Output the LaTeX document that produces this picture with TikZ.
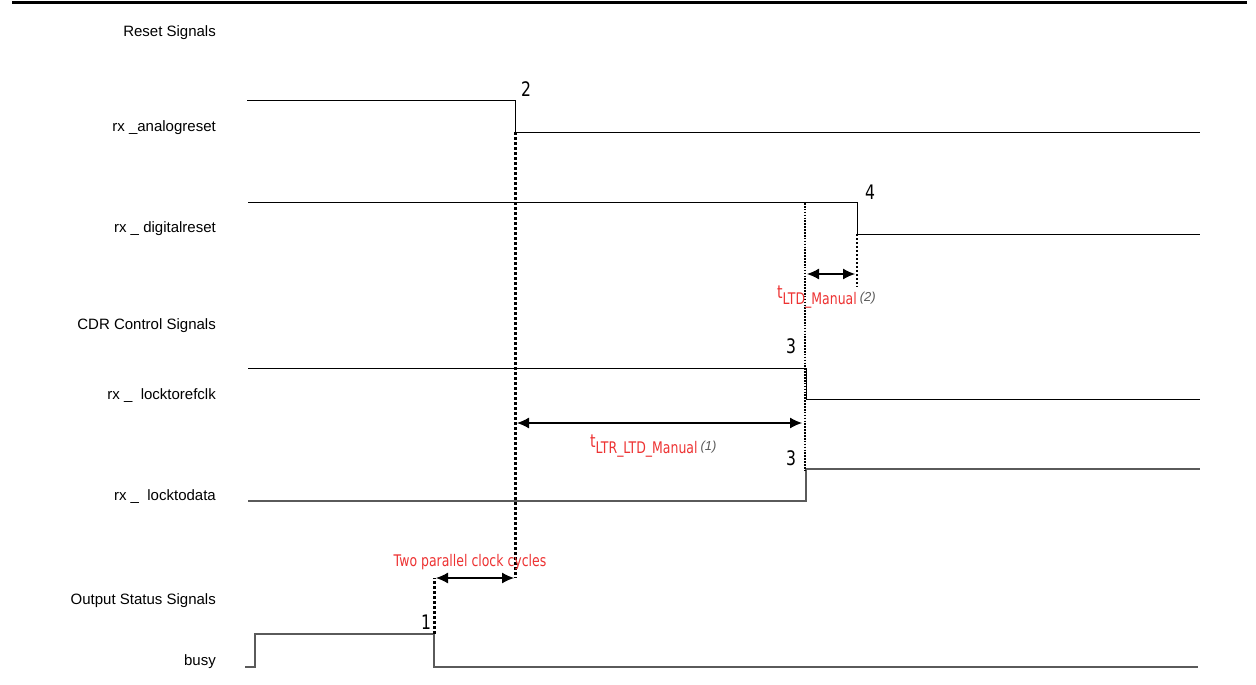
\documentclass[tikz,border=0pt]{standalone}
\usepackage{fontspec}
\setmainfont{Liberation Sans}
\newfontfamily\tahfont[FakeStretch=0.78]{DejaVu Sans}
\usepackage{tikz}
\usetikzlibrary{arrows.meta,positioning}
\definecolor{notered}{RGB}{237,50,50}
\definecolor{siggray}{RGB}{90,90,90}

\begin{document}
\begin{tikzpicture}[x=1pt, y=-1pt,
        sig/.style = {line width=0.9pt},
        graysig/.style = {line width=1.2pt, siggray},
        dimarr/.style = {{Latex[length=12pt,width=11pt]}-{Latex[length=12pt,width=11pt]}, line width=1.2pt},
        dotthick/.style = {line width=3pt, dash pattern=on 2.6pt off 2.4pt},
        dotthin/.style = {line width=1.8pt, dash pattern=on 1.6pt off 1.3pt},
        lbl/.style = {anchor=base east, inner sep=0pt, font=\fontsize{15}{17}\selectfont},
        num/.style = {inner sep=0pt, font=\tahfont\fontsize{20}{22}\selectfont},
        note/.style = {anchor=base west, inner sep=0pt, text=notered}]
        \useasboundingbox (0,0) rectangle (1256,685);
        \draw [line width=3pt] (12,3) -- (1247,3);

        \node (hreset) [lbl] at (216,37) {Reset Signals};
        \node (lana) [lbl] at (216,131) {rx \_analogreset};
        \node (ldig) [lbl] at (216,232) {rx \_ digitalreset};
        \node (hcdr) [lbl] at (216,329) {CDR Control Signals};
        \node (lref) [lbl] at (216,399) {rx \_~ locktorefclk};
        \node (ldata) [lbl] at (216,500) {rx \_~ locktodata};
        \node (hout) [lbl] at (216,604) {Output Status Signals};
        \node (lbusy) [lbl] at (216,665) {busy};

        \draw [sig] (247,100) -- (515,100) -- (515,132) coordinate (anafall) -- (1200,132);
        \draw [sig] (248,202) -- (857,202) -- (857,234) coordinate (digfall) -- (1200,234);
        \draw [sig] (248,368) -- (806,368) -- (806,399) -- (1200,399);
        \draw [graysig] (248,501) -- (806,501) -- (806,469) -- (1200,469);
        \draw [graysig] (245,667) -- (255,667) -- (255,634) -- (434,634) coordinate (busyfall) -- (434,667) -- (1198,667);

        \node (n2) [num] at (526,89) {2};
        \node (n4) [num] at (870,192) {4};
        \node (n3a) [num] at (791,346) {3};
        \node (n3b) [num] at (791,458) {3};
        \node (n1) [num] at (426,622) {1};

        \coordinate (twoL) at (434,578);
        \coordinate (twoR) at (515,578);
        \coordinate (ltdL) at (805,203);
        \coordinate (ltdB) at (805,470);
        \coordinate (digB) at (857,287);

        \draw [dotthick] (anafall) -- (twoR);
        \draw [dotthick] (busyfall) -- (twoL);
        \draw [dotthin] (ltdL) -- (ltdB);
        \draw [dotthin, line width=2.2pt, dash pattern=on 2pt off 2pt] (digfall) -- (digB);

        \draw [dimarr] ([xshift=2pt]twoL) -- ([xshift=-1pt]twoR);
        \draw [dimarr] ([xshift=2pt]ltdL |- 0,274) -- ([xshift=-2pt]digB |- 0,274);
        \draw [dimarr] ([xshift=2pt]anafall |- 0,423) -- ([xshift=-3pt]ltdL |- 0,423);

        \node (twoclk) [note, anchor=base] at (470,566) {\tahfont\fontsize{16}{18}\selectfont Two parallel clock cycles};
        \node (tltd) [note] at (777,298) {\tahfont\fontsize{18}{20}\selectfont t\raisebox{-6pt}{\fontsize{16}{18}\selectfont LTD\_Manual}\,{\color{siggray}\normalfont\itshape\fontsize{13}{15}\selectfont\raisebox{-3pt}{(2)}}};
        \node (tltr) [note] at (590,447) {\tahfont\fontsize{18}{20}\selectfont t\raisebox{-6pt}{\fontsize{16}{18}\selectfont LTR\_LTD\_Manual}\,{\color{siggray}\normalfont\itshape\fontsize{13}{15}\selectfont\raisebox{-3pt}{(1)}}};
      \end{tikzpicture}
\end{document}
